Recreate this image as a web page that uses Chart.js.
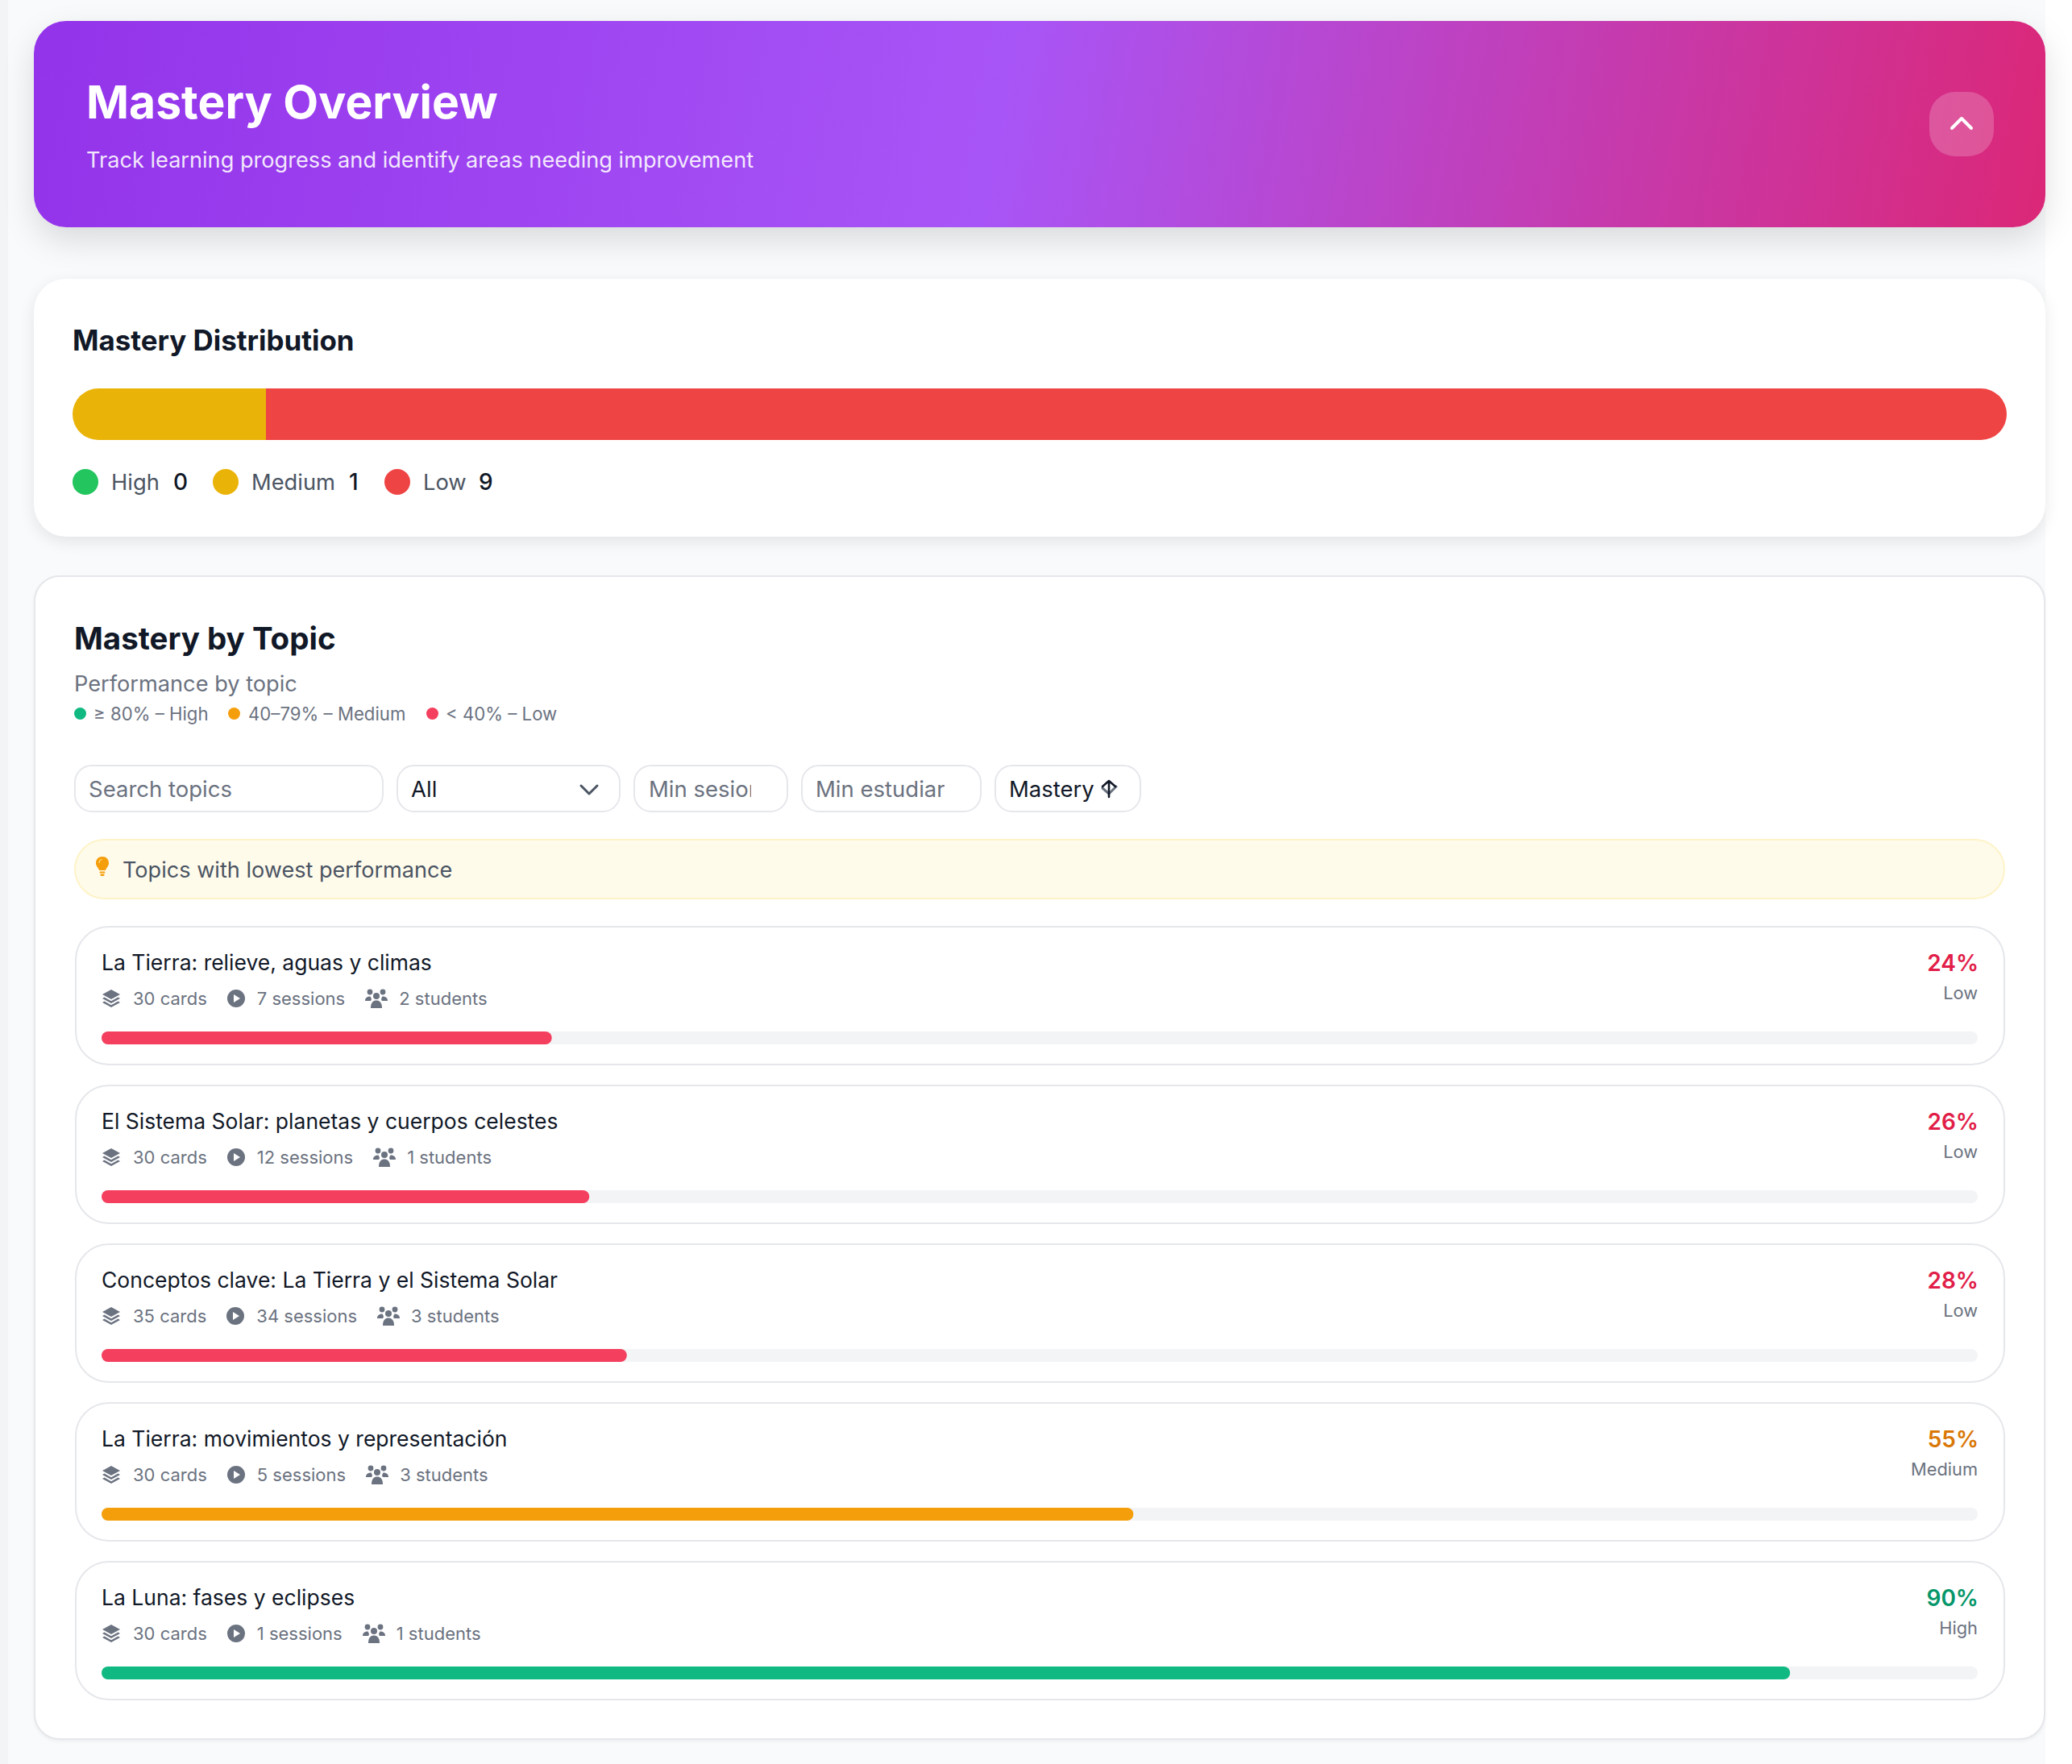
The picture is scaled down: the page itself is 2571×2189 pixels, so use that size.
<!DOCTYPE html>
<html>
<head>
<meta charset="utf-8">
<title>Mastery Overview</title>
<script src="https://cdn.jsdelivr.net/npm/chart.js@4"></script>
<style>
  * { box-sizing: border-box; }
  html, body { margin: 0; padding: 0; }
  body { width: 2571px; height: 2189px; position: relative; overflow: hidden; background: #fff; font-family: Inter, "Noto Sans", sans-serif; color: #111827; }
  .abs { position: absolute; white-space: nowrap; }
  .vc { transform: translateY(-50%); }
  #strip { left: 0; top: 0; width: 10px; height: 2189px; background: #f3f4f6; }
  #page { left: 10px; top: 0; width: 2528px; height: 2189px; background: #f9fafb; }
  #banner { left: 42px; top: 26px; width: 2496px; height: 256px; border-radius: 40px; background: linear-gradient(100deg, #9333ea 0%, #a855f7 48%, #db2777 100%); box-shadow: 0 16px 40px rgba(0,0,0,.13); }
  #collapse { left: 2394px; top: 114px; width: 80px; height: 80px; border-radius: 32px; background: rgba(255,255,255,.2); }
  #distCard { left: 42px; top: 346px; width: 2496px; height: 320px; border-radius: 40px; background: #fff; box-shadow: 0 6px 20px rgba(0,0,0,.09); }
  #topicCard { left: 42px; top: 714px; width: 2496px; height: 1445px; border-radius: 32px; background: #fff; border: 2.5px solid #e5e7eb; box-shadow: 0 2px 4px rgba(0,0,0,.05); }
  .ctl { height: 59px; top: 949px; border: 2.5px solid #e5e7eb; border-radius: 22px; background: #fff; }
  .ctlText { top: 979px; font-size: 27.5px; color: #6b7280; overflow: hidden; }
  .item { left: 93px; width: 2395px; height: 173px; border: 2.5px solid #e5e7eb; border-radius: 42px; background: #fff; }
  .name { left: 126px; font-size: 26.5px; font-weight: 400; color: #111827; }
  .meta { left: 126px; display: flex; align-items: center; font-size: 22px; color: #6b7280; }
  .meta span { margin-right: 25px; margin-left: 15px; }
  .meta span:last-child { margin-left: 14px; }
  .meta svg { flex: none; display: block; }
  .pct { right: 116px; font-size: 28px; font-weight: 600; }
  .lvl { right: 117px; font-size: 21.8px; color: #6b7280; }
  canvas { position: absolute; pointer-events: none; }
</style>
</head>
<body>
<div class="abs" id="strip"></div>
<div class="abs" id="page"></div>
<div class="abs" id="banner"></div>
<div class="abs vc" style="left:107px;top:126px;font-size:57px;font-weight:700;color:#fff">Mastery Overview</div>
<div class="abs vc" style="left:107px;top:198px;font-size:27.15px;color:rgba(255,255,255,.9)">Track learning progress and identify areas needing improvement</div>
<div class="abs" id="collapse"></div>
<svg class="abs" style="left:2416px;top:136px" width="36" height="36" viewBox="0 0 36 36" fill="none" stroke="#fff" stroke-width="4" stroke-linecap="round" stroke-linejoin="round"><path d="M6 23 L18 11 L30 23"/></svg>

<div class="abs" id="distCard"></div>
<div class="abs vc" style="left:90px;top:422px;font-size:34.9px;font-weight:700">Mastery Distribution</div>
<canvas id="distChart" width="2400" height="64" style="left:90px;top:482px"></canvas>
<div id="distLegend"></div>

<div class="abs" id="topicCard"></div>
<div class="abs vc" style="left:92px;top:792px;font-size:38.5px;font-weight:700">Mastery by Topic</div>
<div class="abs vc" style="left:92px;top:848px;font-size:27.2px;color:#6b7280">Performance by topic</div>
<div id="bandKey"></div>

<div class="abs ctl" style="left:92px;width:384px"></div>
<div class="abs vc ctlText" style="left:110px">Search topics</div>
<div class="abs ctl" style="left:492px;width:278px"></div>
<div class="abs vc ctlText" style="left:510px;color:#111827">All</div>
<svg class="abs" style="left:718px;top:967px" width="26" height="26" viewBox="0 0 26 26" fill="none" stroke="#4b5563" stroke-width="3" stroke-linecap="round" stroke-linejoin="round"><path d="M3 8 L13 18 L23 8"/></svg>
<div class="abs ctl" style="left:786px;width:192px"></div>
<div class="abs vc ctlText" style="left:805px;width:127px">Min sesiones</div>
<div class="abs ctl" style="left:994px;width:224px"></div>
<div class="abs vc ctlText" style="left:1012px;width:160px">Min estudiar</div>
<div class="abs ctl" style="left:1234px;width:182px"></div>
<div class="abs vc ctlText" style="left:1252px;color:#111827">Mastery</div>
<svg class="abs" style="left:1365px;top:967px" width="22" height="24" viewBox="0 0 22 24" fill="none" stroke-linecap="round" stroke-linejoin="round"><path d="M3 11 L11 18 L20 9" stroke="#6b7280" stroke-width="3"/><path d="M3 9 L11 2 L19 9 M11 2 V22" stroke="#111827" stroke-width="2.6"/></svg>

<div class="abs" style="left:92px;top:1041px;width:2396px;height:75px;border-radius:38px;background:#fffbeb;border:2.5px solid #fef3c7"></div>
<svg class="abs" style="left:118px;top:1062px" width="18" height="26" viewBox="0 0 18 26"><path d="M9 1 C4 1 1 4.5 1 9 C1 13 4 14.5 5 18 H13 C14 14.5 17 13 17 9 C17 4.5 14 1 9 1 Z" fill="#f59e0b"/><path d="M5 9 C5 6.5 6.5 5 8.5 4.5" fill="none" stroke="#fde68a" stroke-width="1.2"/><rect x="5.5" y="19.5" width="7" height="2" rx="1" fill="#f59e0b"/><rect x="6.5" y="22.5" width="5" height="2.5" rx="1" fill="#f59e0b"/></svg>
<div class="abs vc" style="left:152px;top:1079px;font-size:27.1px;color:#4b5563">Topics with lowest performance</div>

<div id="topicRows"></div>
<canvas id="topicChart" width="2328" height="986" style="left:126px;top:1189px"></canvas>

<script>
// values
const distLabels = ["High", "Medium", "Low"];
const distCounts = [0, 1, 9];
const distColors = ["#22c55e", "#eab308", "#ef4444"];

const bandLabels = ["≥ 80% – High", "40–79% – Medium", "< 40% – Low"];
const bandColors = ["#10b981", "#f59e0b", "#f43f5e"];

const topicNames = [
  "La Tierra: relieve, aguas y climas",
  "El Sistema Solar: planetas y cuerpos celestes",
  "Conceptos clave: La Tierra y el Sistema Solar",
  "La Tierra: movimientos y representación",
  "La Luna: fases y eclipses"
];
const topicMastery = [24, 26, 28, 55, 90];
const topicCards = [30, 30, 35, 30, 30];
const topicSessions = [7, 12, 34, 5, 1];
const topicStudents = [2, 1, 3, 3, 1];
const topicLevels = ["Low", "Low", "Low", "Medium", "High"];
const trackValues = [100, 100, 100, 100, 100];

const barColor = { Low: "#f43f5e", Medium: "#f59e0b", High: "#10b981" };
const pctColor = { Low: "#e11d48", Medium: "#d97706", High: "#059669" };

const layersIcon = '<svg width="24" height="24" viewBox="0 0 24 24" fill="#6b7280"><path d="M12 1 L23 7 L12 13 L1 7 Z"/><path d="M3.5 10.5 L12 15.2 L20.5 10.5 L23 12 L12 18 L1 12 Z"/><path d="M3.5 15.5 L12 20.2 L20.5 15.5 L23 17 L12 23 L1 17 Z"/></svg>';
const playIcon = '<svg width="22" height="22" viewBox="0 0 22 22"><circle cx="11" cy="11" r="11" fill="#6b7280"/><path d="M8 6 L16 11 L8 16 Z" fill="#fff"/></svg>';
const usersIcon = '<svg width="28" height="24" viewBox="0 0 28 24" fill="#6b7280"><circle cx="6" cy="4" r="3.4"/><circle cx="22" cy="4" r="3.4"/><circle cx="14" cy="9" r="4"/><path d="M0 15 C0 11 3 9.5 6.5 9.5 C8 12 8.5 13 7 15 Z"/><path d="M28 15 C28 11 25 9.5 21.5 9.5 C20 12 19.5 13 21 15 Z"/><path d="M7 24 C7 17 10 14.5 14 14.5 C18 14.5 21 17 21 24 Z"/></svg>';

function addText(parent, html, cls, style) {
  const el = document.createElement("div");
  el.className = "abs vc " + cls;
  el.style.cssText = style;
  el.innerHTML = html;
  parent.appendChild(el);
  return el;
}

function addDot(parent, left, top, size, color) {
  const el = document.createElement("div");
  el.className = "abs";
  el.style.cssText = `left:${left}px;top:${top - size / 2}px;width:${size}px;height:${size}px;border-radius:50%;background:${color}`;
  parent.appendChild(el);
}

// distribution legend
const legendEl = document.getElementById("distLegend");
const dotX = [90, 264, 477];
const labelX = [138, 312, 525];
const countX = [215, 433, 594];
distLabels.forEach((label, i) => {
  addDot(legendEl, dotX[i], 598, 32, distColors[i]);
  addText(legendEl, label, "", `left:${labelX[i]}px;top:598px;font-size:27.3px;color:#4b5563`);
  addText(legendEl, distCounts[i], "", `left:${countX[i]}px;top:598px;font-size:28px;font-weight:500;color:#111827`);
});

// mastery bands key
const keyEl = document.getElementById("bandKey");
const keyDotX = [92, 283, 529];
const keyTextX = [116, 308, 553];
bandLabels.forEach((label, i) => {
  addDot(keyEl, keyDotX[i], 885, 15, bandColors[i]);
  addText(keyEl, label.replace("<", "&lt;"), "", `left:${keyTextX[i]}px;top:885px;font-size:22.2px;color:#6b7280`);
});

// topic cards
const rowsEl = document.getElementById("topicRows");
topicNames.forEach((name, i) => {
  const y = 1149 + i * 197;
  const card = document.createElement("div");
  card.className = "abs item";
  card.style.top = y + "px";
  rowsEl.appendChild(card);
  addText(rowsEl, name, "name", `top:${y + 45}px`);
  addText(rowsEl,
    `${layersIcon}<span>${topicCards[i]} cards</span>${playIcon}<span>${topicSessions[i]} sessions</span>${usersIcon}<span>${topicStudents[i]} students</span>`,
    "meta", `top:${y + 90}px`);
  addText(rowsEl, topicMastery[i] + "%", "pct", `top:${y + 46}px;color:${pctColor[topicLevels[i]]}`);
  addText(rowsEl, topicLevels[i], "lvl", `top:${y + 83}px`);
});

Chart.defaults.animation = false;
Chart.defaults.font.family = "Inter";

// stacked distribution bar
new Chart(document.getElementById("distChart"), {
  type: "bar",
  data: {
    labels: ["Topics"],
    datasets: distLabels.map((label, i) => ({
      label,
      data: [distCounts[i]],
      backgroundColor: distColors[i],
      borderSkipped: false,
      inflateAmount: 0,
      borderRadius: i === 1
        ? { topLeft: 32, bottomLeft: 32, topRight: 0, bottomRight: 0 }
        : i === 2
          ? { topLeft: 0, bottomLeft: 0, topRight: 32, bottomRight: 32 }
          : 0,
      barPercentage: 1,
      categoryPercentage: 1
    }))
  },
  options: {
    indexAxis: "y",
    responsive: false,
    devicePixelRatio: 1,
    layout: { padding: 0 },
    plugins: { legend: { display: false }, tooltip: { enabled: false } },
    scales: {
      x: { stacked: true, display: false, min: 0, max: 10 },
      y: { stacked: true, display: false }
    }
  }
});

// mastery bars, one category per topic card
new Chart(document.getElementById("topicChart"), {
  type: "bar",
  data: {
    labels: topicNames,
    datasets: [
      {
        label: "Mastery",
        data: topicMastery,
        backgroundColor: topicLevels.map(l => barColor[l]),
        barThickness: 16,
        borderRadius: 8,
        borderSkipped: false,
        inflateAmount: 0,
        grouped: false,
        order: 0
      },
      {
        label: "Track",
        data: trackValues,
        backgroundColor: "#f3f4f6",
        barThickness: 16,
        borderRadius: 8,
        borderSkipped: false,
        inflateAmount: 0,
        grouped: false,
        order: 1
      }
    ]
  },
  options: {
    indexAxis: "y",
    responsive: false,
    devicePixelRatio: 1,
    layout: { padding: { top: 0.5, bottom: 0.5 } },
    plugins: { legend: { display: false }, tooltip: { enabled: false } },
    scales: {
      x: { display: false, min: 0, max: 100 },
      y: { display: false }
    }
  }
});
</script>
</body>
</html>
